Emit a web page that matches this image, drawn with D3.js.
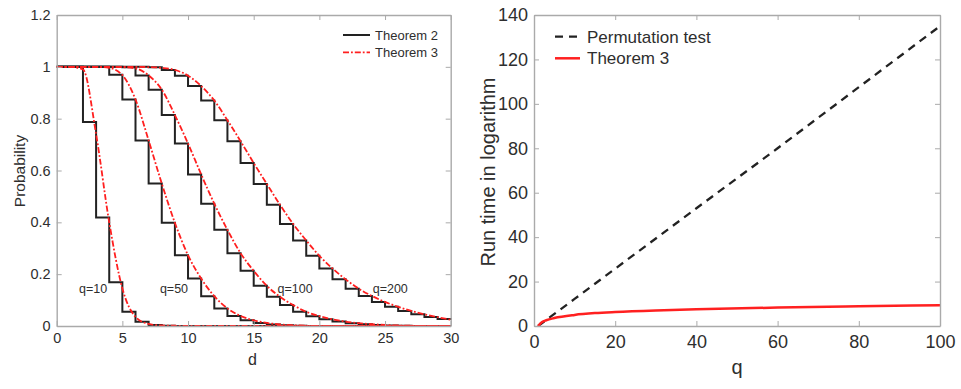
<!DOCTYPE html>
<html>
<head>
<meta charset="utf-8">
<script src="https://cdn.jsdelivr.net/npm/d3@7"></script>
<style>
  body { margin: 0; background: #fff; }
  svg { display: block; font-family: "Liberation Sans", Arial, sans-serif; }
  .axis path, .axis line { stroke: #aaaaaa; }
  .axis text { fill: #2e2e2e; }
</style>
</head>
<body>
<svg width="961" height="389"></svg>
<script>
// left panel: probability vs d, one value per integer d (0..30)
const dValues = d3.range(0, 31);
const qNames = ['q=10', 'q=50', 'q=100', 'q=200'];

// Theorem 2 (step functions), value on [d, d+1)
const step10 = [1, 1, 0.787, 0.419, 0.169, 0.055, 0.016, 0.004, 0.001, 0, 0, 0, 0, 0, 0, 0, 0, 0, 0, 0, 0, 0, 0, 0, 0, 0, 0, 0, 0, 0, 0];
const step50 = [1, 1, 1, 1, 0.969, 0.874, 0.716, 0.55, 0.398, 0.273, 0.183, 0.115, 0.068, 0.039, 0.022, 0.012, 0.006, 0.003, 0.001, 0, 0, 0, 0, 0, 0, 0, 0, 0, 0, 0, 0];
const step100 = [1, 1, 1, 1, 1, 0.998, 0.967, 0.912, 0.814, 0.704, 0.585, 0.472, 0.371, 0.281, 0.213, 0.155, 0.113, 0.081, 0.055, 0.038, 0.026, 0.017, 0.011, 0.007, 0.004, 0.002, 0.001, 0, 0, 0, 0];
const step200 = [1, 1, 1, 1, 1, 1, 1, 0.998, 0.988, 0.966, 0.926, 0.87, 0.794, 0.713, 0.629, 0.548, 0.468, 0.394, 0.33, 0.271, 0.222, 0.18, 0.144, 0.116, 0.093, 0.074, 0.058, 0.045, 0.035, 0.027, 0.023];

// Theorem 3 (smooth curves), value at d
const red10 = [1, 1, 0.99, 0.74, 0.4, 0.145, 0.035, 0.008, 0.002, 0.001, 0, 0, 0, 0, 0, 0, 0, 0, 0, 0, 0, 0, 0, 0, 0, 0, 0, 0, 0, 0, 0];
const red50 = [1, 1, 1, 1, 0.996, 0.968, 0.874, 0.716, 0.55, 0.398, 0.273, 0.183, 0.115, 0.068, 0.039, 0.022, 0.012, 0.006, 0.003, 0.001, 0, 0, 0, 0, 0, 0, 0, 0, 0, 0, 0];
const red100 = [1, 1, 1, 1, 1, 0.999, 0.994, 0.967, 0.912, 0.814, 0.704, 0.585, 0.472, 0.371, 0.281, 0.213, 0.155, 0.113, 0.081, 0.055, 0.038, 0.026, 0.017, 0.011, 0.007, 0.004, 0.002, 0.001, 0, 0, 0];
const red200 = [1, 1, 1, 1, 1, 1, 1, 0.999, 0.996, 0.988, 0.966, 0.926, 0.87, 0.794, 0.713, 0.629, 0.548, 0.468, 0.394, 0.33, 0.271, 0.222, 0.18, 0.144, 0.116, 0.093, 0.074, 0.058, 0.045, 0.034, 0.024];

// label anchors (d, probability) for the q= annotations
const qLabelD = [2.77, 8.93, 18.15, 25.4];
const qLabelP = [0.144, 0.144, 0.144, 0.144];

// right panel: run time vs q
const permQ = [1, 10, 20, 40, 60, 80, 100];
const permVal = [0, 12.2, 25.8, 53, 80, 107.5, 135];
const thm3Q = [1, 2, 3, 5, 10, 15, 20, 30, 40, 60, 80, 100];
const thm3Val = [0, 1.8, 2.6, 3.6, 5.0, 5.8, 6.3, 7.0, 7.5, 8.3, 8.9, 9.35];

const $svg = d3.select('svg');

// draws a MATLAB-like box with inward ticks on all four sides
function drawBox($g, x, y, xticks, yticks, fmtY, fontSize, padX, padY) {
    const [x0, x1] = x.range();
    const [y0, y1] = y.range();
    $g.append('g').attr('class', 'axis').attr('transform', `translate(0,${y0})`)
        .call(d3.axisBottom(x).tickValues(xticks).tickSize(-5).tickSizeOuter(0).tickPadding(padX))
        .selectAll('text').style('font-size', fontSize + 'px');
    $g.append('g').attr('class', 'axis').attr('transform', `translate(0,${y1})`)
        .call(d3.axisTop(x).tickValues(xticks).tickSize(-5).tickSizeOuter(0).tickFormat(''));
    $g.append('g').attr('class', 'axis').attr('transform', `translate(${x0},0)`)
        .call(d3.axisLeft(y).tickValues(yticks).tickSize(-5).tickSizeOuter(0).tickPadding(padY).tickFormat(fmtY))
        .selectAll('text').style('font-size', fontSize + 'px');
    $g.append('g').attr('class', 'axis').attr('transform', `translate(${x1},0)`)
        .call(d3.axisRight(y).tickValues(yticks).tickSize(-5).tickSizeOuter(0).tickFormat(''));
    $g.selectAll('.axis path').attr('stroke-width', 1.4);
}

// ---------- left panel ----------
const xL = d3.scaleLinear().domain([0, 30]).range([56.7, 450.7]);
const yL = d3.scaleLinear().domain([0, 1.2]).range([326, 15]);
const $left = $svg.append('g');

const stepLine = d3.line().curve(d3.curveStepAfter).x((d, i) => xL(dValues[i])).y((d) => yL(d));
const smoothLine = d3.line().curve(d3.curveMonotoneX).x((d, i) => xL(dValues[i])).y((d) => yL(d));

[step10, step50, step100, step200].forEach((s) => {
    $left.append('path').attr('d', stepLine(s))
        .attr('fill', 'none').attr('stroke', '#222').attr('stroke-width', 2);
});
[red10, red50, red100, red200].forEach((s) => {
    $left.append('path').attr('d', smoothLine(s))
        .attr('fill', 'none').attr('stroke', '#ff1f1f').attr('stroke-width', 1.8)
        .attr('stroke-dasharray', '6,2,1.8,2');
});

drawBox($left, xL, yL, d3.range(0, 31, 5), d3.range(0, 1.21, 0.2), (d) => d3.format('~g')(+d.toFixed(1)), 14.5, 7, 6);

qNames.forEach((name, i) => {
    $left.append('text').attr('x', xL(qLabelD[i])).attr('y', yL(qLabelP[i]))
        .attr('text-anchor', 'middle').attr('dy', '0.35em')
        .style('font-size', '12.5px').attr('fill', '#2e2e2e').text(name);
});

$left.append('text').attr('x', 252.5).attr('y', 365).attr('text-anchor', 'middle')
    .style('font-size', '16px').attr('fill', '#2e2e2e').text('d');
$left.append('text').attr('transform', 'translate(25,171) rotate(-90)').attr('text-anchor', 'middle')
    .style('font-size', '15.5px').attr('fill', '#2e2e2e').text('Probability');

// legend
const legL = [
    {label: 'Theorem 2', color: '#222', dash: null, w: 2},
    {label: 'Theorem 3', color: '#ff1f1f', dash: '6,2,1.8,2', w: 1.8}
];
legL.forEach((l, i) => {
    const yy = 35 + i * 17.3;
    $left.append('line').attr('x1', 343).attr('x2', 370).attr('y1', yy).attr('y2', yy)
        .attr('stroke', l.color).attr('stroke-width', l.w).attr('stroke-dasharray', l.dash);
    $left.append('text').attr('x', 375).attr('y', yy + 4.5)
        .style('font-size', '13px').attr('fill', '#2e2e2e').text(l.label);
});

// ---------- right panel ----------
const xR = d3.scaleLinear().domain([0, 100]).range([534, 940]);
const yR = d3.scaleLinear().domain([0, 140]).range([326, 15]);
const $right = $svg.append('g');

const permLine = d3.line().x((d, i) => xR(permQ[i])).y((d) => yR(d));
const thm3Line = d3.line().curve(d3.curveMonotoneX).x((d, i) => xR(thm3Q[i])).y((d) => yR(d));

$right.append('path').attr('d', permLine(permVal))
    .attr('fill', 'none').attr('stroke', '#222').attr('stroke-width', 2.3).attr('stroke-dasharray', '8,6');
$right.append('path').attr('d', thm3Line(thm3Val))
    .attr('fill', 'none').attr('stroke', '#ff2020').attr('stroke-width', 2.5);

drawBox($right, xR, yR, d3.range(0, 101, 20), d3.range(0, 141, 20), d3.format('d'), 18, 9, 6);

$right.append('text').attr('x', 737).attr('y', 374).attr('text-anchor', 'middle')
    .style('font-size', '20px').attr('fill', '#2e2e2e').text('q');
$right.append('text').attr('transform', 'translate(495,172) rotate(-90)').attr('text-anchor', 'middle')
    .style('font-size', '20px').attr('fill', '#2e2e2e').text('Run time in logarithm');

const legR = [
    {label: 'Permutation test', color: '#222', dash: '8,6', w: 2.3},
    {label: 'Theorem 3', color: '#ff2020', dash: null, w: 2.5}
];
legR.forEach((l, i) => {
    const yy = 36.7 + i * 21.6;
    $right.append('line').attr('x1', 555).attr('x2', 580).attr('y1', yy).attr('y2', yy)
        .attr('stroke', l.color).attr('stroke-width', l.w).attr('stroke-dasharray', l.dash);
    $right.append('text').attr('x', 587).attr('y', yy + 6)
        .style('font-size', '17px').attr('fill', '#2e2e2e').text(l.label);
});
</script>
</body>
</html>
